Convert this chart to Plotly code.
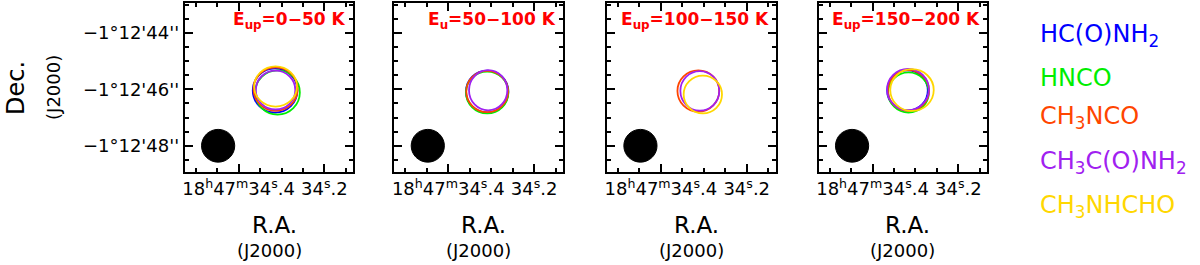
import plotly.graph_objects as go

# ---------------- data ----------------
molecules = ["HC(O)NH<sub>2</sub>", "HNCO", "CH<sub>3</sub>NCO",
             "CH<sub>3</sub>C(O)NH<sub>2</sub>", "CH<sub>3</sub>NHCHO"]
mol_colors = ["#0000FF", "#00EE00", "#FF4500", "#A020F0", "#FFD700"]

panel_titles = ["E<sub>up</sub>=0−50 K", "E<sub>u</sub>=50−100 K",
                "E<sub>up</sub>=100−150 K", "E<sub>up</sub>=150−200 K"]

# contour centres: RA seconds (18h47m xx.xxxs), Dec arcsec (-1d12m xx.xx")
# radii in arcsec; None = molecule not shown in that panel
p1_ra = [34.3150, 34.3093, 34.3139, 34.3139, 34.3139]
p1_dec = [-46.044, -46.115, -45.991, -46.027, -45.903]
p1_rx = [0.78, 0.78, 0.77, 0.69, 0.75]
p1_ry = [0.78, 0.78, 0.77, 0.69, 0.71]

p2_ra = [34.3093, 34.3093, 34.3093, 34.3070, None]
p2_dec = [-46.080, -46.115, -46.080, -46.034, None]
p2_rx = [0.74, 0.74, 0.73, 0.67, None]
p2_ry = [0.74, 0.74, 0.73, 0.71, None]

p3_ra = [None, None, 34.3128, 34.3093, 34.3023]
p3_dec = [None, None, -46.062, -46.055, -46.186]
p3_rx = [None, None, 0.73, 0.68, 0.67]
p3_ry = [None, None, 0.73, 0.70, 0.67]

p4_ra = [34.3186, 34.3163, 34.3163, 34.3174, 34.3081]
p4_dec = [-46.044, -46.115, -46.044, -46.009, -46.027]
p4_rx = [0.71, 0.71, 0.72, 0.73, 0.76]
p4_ry = [0.71, 0.71, 0.72, 0.73, 0.74]

panels = [(p1_ra, p1_dec, p1_rx, p1_ry), (p2_ra, p2_dec, p2_rx, p2_ry),
          (p3_ra, p3_dec, p3_rx, p3_ry), (p4_ra, p4_dec, p4_rx, p4_ry)]

# synthesized beam
beam_ra = 34.4477
beam_dec = -48.0
beam_radius = 0.58  # arcsec

# axes
ra_range = [34.5256, 34.1325]
dec_range = [-48.911, -42.929]
ra_tickvals = [34.4, 34.2]
ra_ticktext = ["18<sup>h</sup>47<sup>m</sup>34<sup>s</sup>.4", "34<sup>s</sup>.2"]
dec_tickvals = [-44, -46, -48]
dec_ticktext = ["−1°12'44''", "−1°12'46''", "−1°12'48''"]

# ---------------- layout ----------------
W, H = 1200, 265
panel_left = [183, 393, 606, 818]
panel_w = 169
top_px, bot_px = 2.5, 171.5
ydom = [1 - bot_px / H, 1 - top_px / H]
FONT = "DejaVu Sans"

fig = go.Figure()
shapes = []
annotations = []
arcsec_per_s = 15.0

for i, (ra, dec, rx, ry) in enumerate(panels):
    n = i + 1
    xa = "x" if n == 1 else f"x{n}"
    ya = "y" if n == 1 else f"y{n}"
    fig.add_trace(go.Scatter(x=[ra_range[0]], y=[dec_range[0]], mode="markers",
                             marker=dict(opacity=0), hoverinfo="skip",
                             showlegend=False, xaxis=xa, yaxis=ya))
    axkey_x = "xaxis" if n == 1 else f"xaxis{n}"
    axkey_y = "yaxis" if n == 1 else f"yaxis{n}"
    x0 = panel_left[i] / W
    x1 = (panel_left[i] + panel_w) / W
    fig.update_layout(**{
        axkey_x: dict(domain=[x0, x1], range=ra_range, anchor=ya,
                      showgrid=False, zeroline=False, showline=True,
                      linecolor="black", linewidth=2, mirror="allticks",
                      ticks="inside", ticklen=8, tickwidth=1.5, tickcolor="black",
                      tickvals=ra_tickvals, ticktext=ra_ticktext,
                      tickfont=dict(family=FONT, size=18, color="black"),
                      minor=dict(dtick=0.05, ticks="inside", ticklen=4,
                                 tickwidth=1.5, tickcolor="black", showgrid=False)),
        axkey_y: dict(domain=ydom, range=dec_range, anchor=xa,
                      showgrid=False, zeroline=False, showline=True,
                      linecolor="black", linewidth=2, mirror="allticks",
                      ticks="inside", ticklen=8, tickwidth=1.5, tickcolor="black",
                      tickvals=dec_tickvals, ticktext=dec_ticktext,
                      showticklabels=(n == 1),
                      tickfont=dict(family=FONT, size=18, color="black"),
                      minor=dict(dtick=0.5, ticks="inside", ticklen=4,
                                 tickwidth=1.5, tickcolor="black", showgrid=False)),
    })
    # beam
    shapes.append(dict(type="circle", xref=xa, yref=ya,
                       x0=beam_ra + beam_radius / arcsec_per_s,
                       x1=beam_ra - beam_radius / arcsec_per_s,
                       y0=beam_dec - beam_radius, y1=beam_dec + beam_radius,
                       fillcolor="black", line=dict(color="black", width=1)))
    # contours
    for k in range(len(molecules)):
        if ra[k] is None:
            continue
        shapes.append(dict(type="circle", xref=xa, yref=ya,
                           x0=ra[k] + rx[k] / arcsec_per_s,
                           x1=ra[k] - rx[k] / arcsec_per_s,
                           y0=dec[k] - ry[k], y1=dec[k] + ry[k],
                           line=dict(color=mol_colors[k], width=1.8)))
    # panel title
    annotations.append(dict(text=panel_titles[i], xref="paper", yref="paper",
                            x=(panel_left[i] + panel_w - 5) / W, y=1 - 21 / H,
                            xanchor="right", yanchor="middle", showarrow=False,
                            font=dict(family="DejaVu Sans", size=17, color="#FF0000",
                                      weight="bold")))
    # x titles
    cx = (panel_left[i] + panel_w / 2) / W
    annotations.append(dict(text="R.A.", xref="paper", yref="paper",
                            x=cx + 5 / W, y=1 - 225 / H, xanchor="center",
                            yanchor="middle", showarrow=False,
                            font=dict(family=FONT, size=23, color="black")))
    annotations.append(dict(text="(J2000)", xref="paper", yref="paper",
                            x=cx, y=1 - 250 / H, xanchor="center",
                            yanchor="middle", showarrow=False,
                            font=dict(family=FONT, size=18, color="black")))

# y title
annotations.append(dict(text="Dec.", xref="paper", yref="paper",
                        x=14 / W, y=1 - 88 / H, xanchor="center", yanchor="middle",
                        textangle=-90, showarrow=False,
                        font=dict(family=FONT, size=24, color="black")))
annotations.append(dict(text="(J2000)", xref="paper", yref="paper",
                        x=52 / W, y=1 - 87 / H, xanchor="center", yanchor="middle",
                        textangle=-90, showarrow=False,
                        font=dict(family=FONT, size=18, color="black")))

# legend as coloured text
legend_y = [36, 78, 117.5, 162, 206]
for k, m in enumerate(molecules):
    annotations.append(dict(text=m, xref="paper", yref="paper",
                            x=1038 / W, y=1 - legend_y[k] / H,
                            xanchor="left", yanchor="middle", showarrow=False,
                            font=dict(family=FONT, size=24, color=mol_colors[k])))

fig.update_layout(width=W, height=H, margin=dict(l=0, r=0, t=0, b=0),
                  paper_bgcolor="white", plot_bgcolor="white",
                  shapes=shapes, annotations=annotations, showlegend=False)

fig.write_html("out.html", config={"displayModeBar": False},
               post_script="document.body.style.margin='0';document.body.style.overflow='hidden';")
